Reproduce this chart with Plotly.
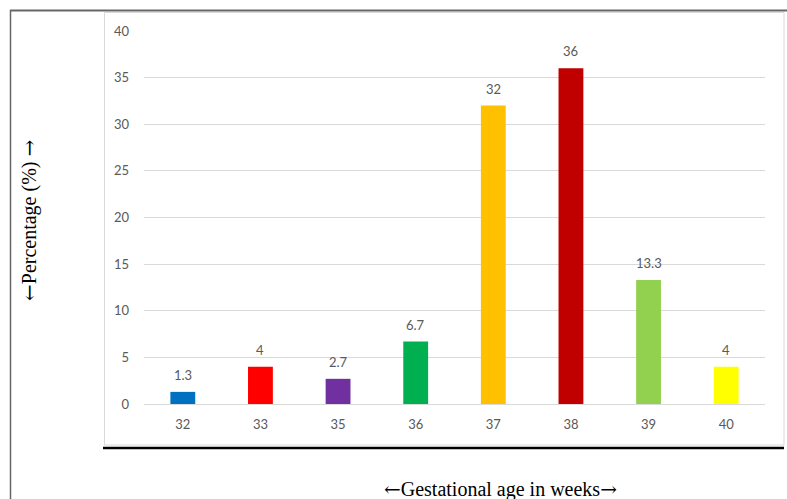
import plotly.graph_objects as go

# Gestational age categories (weeks) and share of cases (%)
weeks = ["32", "33", "35", "36", "37", "38", "39", "40"]
percent = [1.3, 4, 2.7, 6.7, 32, 36, 13.3, 4]
bar_colors = ["#0070C0", "#FF0000", "#7030A0", "#00B050",
              "#FFC000", "#C00000", "#92D050", "#FFFF00"]
y_ticks = [0, 5, 10, 15, 20, 25, 30, 35, 40]

W, H = 787, 499
# plot area in pixels
PL, PR, PT, PB = 144, 765, 31, 404


def px_x(x):
    return (x - PL) / (PR - PL)


def px_y(y):
    return (PB - y) / (PB - PT)


fig = go.Figure()
fig.add_trace(go.Bar(
    x=weeks, y=percent,
    marker=dict(color=bar_colors, line=dict(width=0)),
    width=0.32,
    hoverinfo="x+y",
))

label_font = dict(family="Lato, Open Sans, sans-serif", size=13, color="#595959")

# value labels above each bar (category index positions)
for i, v in enumerate(percent):
    fig.add_annotation(x=i, y=v, xref="x", yref="y", text=f"{v:g}",
                       showarrow=False, yanchor="middle", yshift=17,
                       font=label_font)

shapes = [
    # outer frame (top and left edges)
    dict(type="line", xref="paper", yref="paper",
         x0=px_x(10), x1=px_x(787), y0=px_y(10.5), y1=px_y(10.5),
         line=dict(color="#666666", width=2)),
    dict(type="line", xref="paper", yref="paper",
         x0=px_x(10.5), x1=px_x(10.5), y0=px_y(10), y1=px_y(499),
         line=dict(color="#666666", width=1.5)),
    # chart box
    dict(type="rect", xref="paper", yref="paper",
         x0=px_x(104.5), x1=px_x(784), y0=px_y(12.5), y1=px_y(445),
         line=dict(color="#D9D9D9", width=1)),
    # heavy base rule under the chart box
    dict(type="line", xref="paper", yref="paper",
         x0=px_x(103), x1=px_x(784), y0=px_y(448), y1=px_y(448),
         line=dict(color="#000000", width=2.5)),
]

serif = "Liberation Serif, Times New Roman, serif"
arrow_l = "<span style='font-family:DejaVu Serif'>←</span>"
arrow_r = "<span style='font-family:DejaVu Serif'>→</span>"

# axis titles
fig.add_annotation(xref="paper", yref="paper", x=px_x(29), y=px_y(221),
                   xanchor="center", yanchor="middle",
                   text=f"{arrow_l}Percentage (%) {arrow_r}", textangle=-90,
                   showarrow=False,
                   font=dict(family=serif, size=20, color="#000000"))
fig.add_annotation(xref="paper", yref="paper", x=px_x(500), y=px_y(489),
                   xanchor="center", yanchor="middle",
                   text=f"{arrow_l}Gestational age in weeks{arrow_r}",
                   showarrow=False,
                   font=dict(family=serif, size=20, color="#000000"))

fig.update_layout(
    width=W, height=H,
    margin=dict(l=PL, r=W - PR, t=PT, b=H - PB, pad=0),
    paper_bgcolor="white", plot_bgcolor="white",
    showlegend=False,
    shapes=shapes,
    xaxis=dict(type="category", categoryorder="array", categoryarray=weeks,
               range=[-0.5, len(weeks) - 0.5], showgrid=False, zeroline=False,
               showline=True, linecolor="#D9D9D9", linewidth=1,
               ticks="", tickfont=label_font, tickangle=0,
               ticklabelstandoff=8),
    yaxis=dict(range=[0, 40], tickvals=y_ticks, showgrid=True,
               gridcolor="#D9D9D9", gridwidth=1, zeroline=False,
               showline=False, ticks="", tickfont=label_font,
               ticklabelstandoff=14),
)

fig.write_html("out.html")
